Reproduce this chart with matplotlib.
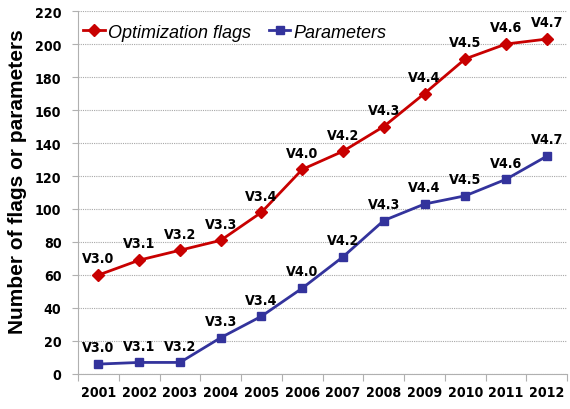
import matplotlib
matplotlib.use("Agg")
import matplotlib.pyplot as plt
import numpy as np

years = ["2001", "2002", "2003", "2004", "2005", "2006",
         "2007", "2008", "2009", "2010", "2011", "2012"]
flags = [60, 69, 75, 81, 98, 124, 135, 150, 170, 191, 200, 203]
params = [6, 7, 7, 22, 35, 52, 71, 93, 103, 108, 118, 132]
versions = ["V3.0", "V3.1", "V3.2", "V3.3", "V3.4", "V4.0",
            "V4.2", "V4.3", "V4.4", "V4.5", "V4.6", "V4.7"]

red = "#C80000"
blue = "#33339C"
nar = dict(family="DejaVu Sans", stretch="condensed", weight="bold", size=10.2)

fig = plt.figure(figsize=(5.7, 4.1), dpi=100)
ax = fig.add_axes([0.137, 0.0854, 0.858, 0.8853])

x = np.arange(1, len(years) + 1)
ax.plot(x, flags, color=red, lw=2, marker="D", ms=6.5, label="Optimization flags")
ax.plot(x, params, color=blue, lw=2, marker="s", ms=5.5, label="Parameters")

for xi, yi, v in zip(x, flags, versions):
    ax.annotate(v, (xi, yi), xytext=(0, 7), textcoords="offset points",
                ha="center", va="bottom", fontproperties=nar)
for xi, yi, v in zip(x, params, versions):
    ax.annotate(v, (xi, yi), xytext=(0, 7), textcoords="offset points",
                ha="center", va="bottom", fontproperties=nar)

ax.set_xlim(0.5, len(years) + 0.5)
ax.set_ylim(0, 220)
ax.set_yticks(range(0, 221, 20))
ax.set_yticklabels([str(v) for v in range(0, 221, 20)], fontproperties=nar)

# ticks between categories, labels in the middle
ax.set_xticks(np.arange(0.5, len(years) + 1, 1))
ax.set_xticklabels([])
ax.set_xticks(x, minor=True)
ax.set_xticklabels(years, minor=True, fontproperties=nar)
ax.tick_params(axis="x", which="major", length=5, color="#b0b0b0", direction="out")
ax.tick_params(axis="x", which="minor", length=0, pad=8)
ax.tick_params(axis="y", length=4, color="#b0b0b0", pad=8)

ax.grid(axis="y", color="#a8a8a8", linestyle=(0, (1, 1)), lw=0.8)
ax.set_axisbelow(True)
for s in ["top", "right"]:
    ax.spines[s].set_visible(False)
for s in ["left", "bottom"]:
    ax.spines[s].set_color("#b0b0b0")

ax.set_ylabel("Number of flags or parameters", fontsize=15, fontweight="bold",
              family=["Liberation Sans", "DejaVu Sans"])
ax.yaxis.set_label_coords(-0.104, 0.532)

ax.legend(loc="upper left", bbox_to_anchor=(-0.015, 1.0), ncol=2, frameon=False,
          prop={"style": "italic", "size": 13, "family": ["Liberation Sans", "DejaVu Sans"]},
          handlelength=1.2, handletextpad=0.15, columnspacing=1.0, borderaxespad=0.3)

fig.savefig("out.png", dpi=100)
